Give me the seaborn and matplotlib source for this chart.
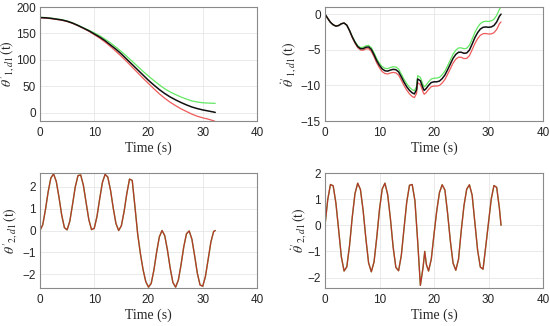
import matplotlib
matplotlib.use("Agg")
import matplotlib.pyplot as plt
import seaborn as sns
import numpy as np

# ---------------- data ----------------
# top-left: theta'_{1,d1}(t)
t_tl = [0, 1, 2, 3, 4, 5, 6, 7, 8, 9, 10, 11, 12, 13, 14, 15, 16, 17, 18, 19, 20,
        21, 22, 23, 24, 25, 26, 27, 28, 29, 30, 31, 32, 32.3]
tl_black = [180, 179.5, 178.5, 177, 175.5, 173, 169.5, 165, 160, 155, 149, 143, 136,
            128, 120, 111, 101, 91, 81, 71, 61, 52, 43.5, 36, 29.5, 24, 19, 14.5,
            10.5, 7.5, 5, 3, 1, 0.3]
tl_green = [180.5, 180, 179, 177.5, 176, 173.5, 170, 165.5, 160.5, 156, 151, 145.5,
            139, 132, 124, 115.5, 106.5, 97, 87.5, 78, 69, 60.5, 52.5, 45, 39, 34,
            29.5, 25.5, 22, 20, 18.5, 18, 17.5, 17.5]
tl_red = [179.5, 179, 178, 176.5, 175, 172.5, 169, 164.5, 159.5, 154, 147.5, 141,
          133.5, 125, 116, 106.5, 96.5, 86, 75.5, 65, 55, 45, 35.5, 27, 19.5, 13, 7,
          2, -3, -7, -10, -12.5, -15.5, -17]

# top-right: dot theta'_{1,d1}(t)
t_tr = [0.0, 0.5, 1.0, 1.5, 2.0, 2.5, 3.0, 3.5, 4.0, 4.5, 5.0, 5.5, 6.0, 6.5, 7.0,
        7.5, 8.0, 8.5, 9.0, 9.5, 10.0, 10.5, 11.0, 11.5, 12.0, 12.5, 13.0, 13.5,
        14.0, 14.5, 15.0, 15.5, 16.0, 16.4, 16.8, 17.0, 17.5, 18.0, 18.2, 18.5,
        19.0, 19.5, 20.0, 20.5, 21.0, 21.5, 22.0, 22.5, 23.0, 23.5, 24.0, 24.5,
        25.0, 25.5, 26.0, 26.5, 27.0, 27.5, 28.0, 28.5, 29.0, 29.5, 30.0, 30.5,
        31.0, 31.5, 32.0, 32.3]
tr_black = [0.0, -0.6, -1.15, -1.5, -1.68, -1.6, -1.35, -1.25, -1.55, -2.3, -3.2,
            -3.95, -4.55, -4.85, -4.85, -4.65, -4.6, -4.95, -5.7, -6.55, -7.2, -7.7,
            -7.95, -8.0, -7.85, -7.75, -7.8, -8.1, -8.8, -9.55, -10.2, -10.7,
            -11.05, -11.2, -10.6, -9.1, -9.35, -10.4, -10.7, -10.5, -10.0, -9.6,
            -9.5, -9.5, -9.4, -9.05, -8.55, -7.8, -7.0, -6.2, -5.65, -5.35, -5.35,
            -5.5, -5.45, -5.05, -4.2, -3.3, -2.6, -2.1, -1.85, -1.8, -1.85, -1.8,
            -1.6, -1.1, -0.3, 0.0]
tr_green = [0.0, -0.6, -1.15, -1.5, -1.68, -1.6, -1.35, -1.25, -1.55, -2.27, -3.13,
            -3.85, -4.42, -4.69, -4.66, -4.45, -4.38, -4.71, -5.44, -6.27, -6.9,
            -7.38, -7.61, -7.65, -7.49, -7.38, -7.42, -7.71, -8.4, -9.14, -9.78,
            -10.27, -10.61, -10.75, -10.15, -8.64, -8.88, -9.92, -10.22, -10.01,
            -9.5, -9.1, -8.99, -8.98, -8.87, -8.51, -8.0, -7.24, -6.43, -5.62,
            -5.06, -4.75, -4.73, -4.86, -4.79, -4.37, -3.5, -2.58, -1.86, -1.34,
            -1.07, -1.0, -1.03, -0.95, -0.72, -0.18, 0.67, 1.0]
tr_red = [0.0, -0.6, -1.15, -1.5, -1.68, -1.6, -1.35, -1.25, -1.55, -2.33, -3.28,
          -4.07, -4.7, -5.03, -5.07, -4.88, -4.85, -5.23, -6.0, -6.87, -7.55, -8.07,
          -8.34, -8.4, -8.26, -8.18, -8.24, -8.55, -9.26, -10.02, -10.68, -11.19,
          -11.56, -11.72, -11.12, -9.63, -9.89, -10.95, -11.25, -11.06, -10.58,
          -10.18, -10.09, -10.1, -10.01, -9.67, -9.18, -8.44, -7.66, -6.87, -6.33,
          -6.04, -6.06, -6.24, -6.21, -5.83, -5.0, -4.13, -3.45, -2.97, -2.75,
          -2.72, -2.79, -2.78, -2.61, -2.16, -1.35, -1.1]

# bottom-left: theta'_{2,d1}(t)
t_bl = [0.0, 0.5, 1.0, 1.5, 2.0, 2.5, 3.0, 3.5, 4.0, 4.5, 5.0, 5.5, 6.0, 6.5, 7.0,
        7.5, 8.0, 8.5, 9.0, 9.5, 10.0, 10.5, 11.0, 11.5, 12.0, 12.5, 13.0, 13.5,
        14.0, 14.5, 15.0, 15.5, 16.0, 16.5, 17.0, 17.5, 18.0, 18.5, 19.0, 19.5,
        20.0, 20.5, 21.0, 21.5, 22.0, 22.5, 23.0, 23.5, 24.0, 24.5, 25.0, 25.5,
        26.0, 26.5, 27.0, 27.5, 28.0, 28.5, 29.0, 29.5, 30.0, 30.5, 31.0, 31.5,
        32.0, 32.3]
bl_value = [0.0, 0.26, 0.95, 1.77, 2.41, 2.6, 2.25, 1.53, 0.71, 0.13, 0.03, 0.43,
            1.2, 2.0, 2.52, 2.55, 2.07, 1.28, 0.5, 0.04, 0.1, 0.64, 1.45, 2.2, 2.58,
            2.45, 1.85, 1.03, 0.32, 0.0, 0.22, 0.87, 1.69, 2.36, 2.3, 1.1, -0.15,
            -1.05, -1.8, -2.35, -2.6, -2.43, -1.81, -0.99, -0.29, 0.0, -0.24, -0.91,
            -1.73, -2.39, -2.6, -2.28, -1.57, -0.75, -0.15, -0.02, -0.4, -1.15,
            -1.96, -2.5, -2.56, -2.1, -1.32, -0.53, -0.05, 0.0]

# bottom-right: dot theta'_{2,d1}(t)
t_br = [0.0, 0.5, 1.0, 1.5, 2.0, 2.5, 3.0, 3.5, 4.0, 4.5, 5.0, 5.5, 6.0, 6.5, 7.0,
        7.5, 8.0, 8.5, 9.0, 9.5, 10.0, 10.5, 11.0, 11.5, 12.0, 12.5, 13.0, 13.5,
        14.0, 14.5, 15.0, 15.5, 16.0, 16.5, 17.0, 17.5, 18.0, 18.3, 18.6, 19.0,
        19.5, 20.0, 20.5, 21.0, 21.5, 22.0, 22.5, 23.0, 23.5, 24.0, 24.5, 25.0,
        25.5, 26.0, 26.5, 27.0, 27.5, 28.0, 28.5, 29.0, 29.5, 30.0, 30.5, 31.0,
        31.5, 32.0, 32.3]
br_value = [0.0, 0.98, 1.56, 1.51, 0.85, -0.17, -1.21, -1.75, -1.59, -0.78, 0.31,
            1.21, 1.61, 1.37, 0.56, -0.51, -1.44, -1.78, -1.4, -0.46, 0.61, 1.39,
            1.61, 1.17, 0.26, -0.83, -1.61, -1.74, -1.16, -0.12, 0.89, 1.53, 1.56,
            0.94, -0.6, -2.3, -1.6, -1.0, -1.5, -1.75, -1.3, -0.35, 0.55, 1.25,
            1.55, 1.35, 0.45, -0.6, -1.45, -1.72, -1.3, -0.2, 0.75, 1.38, 1.55,
            1.15, 0.1, -0.95, -1.6, -1.68, -0.8, 0.1, 1.0, 1.52, 1.45, 0.65, 0.0]

ylabels = [r"$\theta'_{1,d1}\,(\mathrm{t})$", r"$\dot{\theta}'_{1,d1}\,(\mathrm{t})$",
           r"$\theta'_{2,d1}\,(\mathrm{t})$", r"$\dot{\theta}'_{2,d1}\,(\mathrm{t})$"]
xticks = [0, 10, 20, 30, 40]

# ---------------- style ----------------
sns.set_style("whitegrid")
plt.rcParams['font.family'] = ['Liberation Sans', 'DejaVu Sans']
plt.rcParams['mathtext.fontset'] = 'stix'

GREEN = "#62e862"
RED = "#ee5a5a"
DARKRED = "#b23a2a"
BLACK = "#111111"
SPINE = "#8a8a8a"

fig = plt.figure(figsize=(5.5, 3.26), dpi=100)
positions = [
    [40 / 550, 1 - 121 / 326, 217 / 550, 114 / 326],
    [325 / 550, 1 - 121 / 326, 218 / 550, 114 / 326],
    [40 / 550, 1 - 288 / 326, 217 / 550, 115 / 326],
    [325 / 550, 1 - 288 / 326, 218 / 550, 115 / 326],
]
axes = [fig.add_axes(p) for p in positions]

# top-left
ax = axes[0]
sns.lineplot(x=t_tl, y=tl_green, ax=ax, color=GREEN, linewidth=0.9, sort=False)
sns.lineplot(x=t_tl, y=tl_red, ax=ax, color=RED, linewidth=0.9, sort=False)
sns.lineplot(x=t_tl, y=tl_black, ax=ax, color=BLACK, linewidth=1.1, sort=False)
ax.set_ylim(-16, 200)
ax.set_yticks([0, 50, 100, 150, 200])

# top-right
ax = axes[1]
sns.lineplot(x=t_tr, y=tr_green, ax=ax, color=GREEN, linewidth=0.9, sort=False)
sns.lineplot(x=t_tr, y=tr_red, ax=ax, color=RED, linewidth=0.9, sort=False)
sns.lineplot(x=t_tr, y=tr_black, ax=ax, color=BLACK, linewidth=1.1, sort=False)
ax.set_ylim(-15, 1)
ax.set_yticks([-15, -10, -5, 0])

# bottom-left
ax = axes[2]
sns.lineplot(x=t_bl, y=bl_value, ax=ax, color=GREEN, linewidth=0.9, sort=False)
sns.lineplot(x=t_bl, y=bl_value, ax=ax, color=DARKRED, linewidth=1.0, sort=False)
ax.set_ylim(-2.64, 2.64)
ax.set_yticks([-2, -1, 0, 1, 2])

# bottom-right
ax = axes[3]
sns.lineplot(x=t_br, y=br_value, ax=ax, color=GREEN, linewidth=0.9, sort=False)
sns.lineplot(x=t_br, y=br_value, ax=ax, color=DARKRED, linewidth=1.0, sort=False)
ax.set_ylim(-2.4, 2.0)
ax.set_yticks([-2, -1, 0, 1, 2])

label_x = [-0.108, -0.124, -0.09, -0.08]
for ax, yl, lx in zip(axes, ylabels, label_x):
    ax.set_xlim(0, 40)
    ax.set_xticks(xticks)
    ax.grid(True, color="#e6e6e6", linewidth=0.6)
    for s in ax.spines.values():
        s.set_visible(True)
        s.set_color(SPINE)
        s.set_linewidth(0.8)
    ax.tick_params(axis='both', which='both', direction='in', length=2.5,
                   color=SPINE, labelsize=8.5, labelcolor="#262626")
    ax.tick_params(axis='x', pad=4)
    ax.tick_params(axis='y', pad=3)
    ax.set_xlabel("Time (s)", fontsize=10, family=['Liberation Serif', 'DejaVu Serif'],
                  color="#262626", labelpad=2)
    ax.set_ylabel(yl, fontsize=10, color="#262626")
    ax.yaxis.set_label_coords(lx, 0.5)

fig.savefig("out.png", dpi=100)
